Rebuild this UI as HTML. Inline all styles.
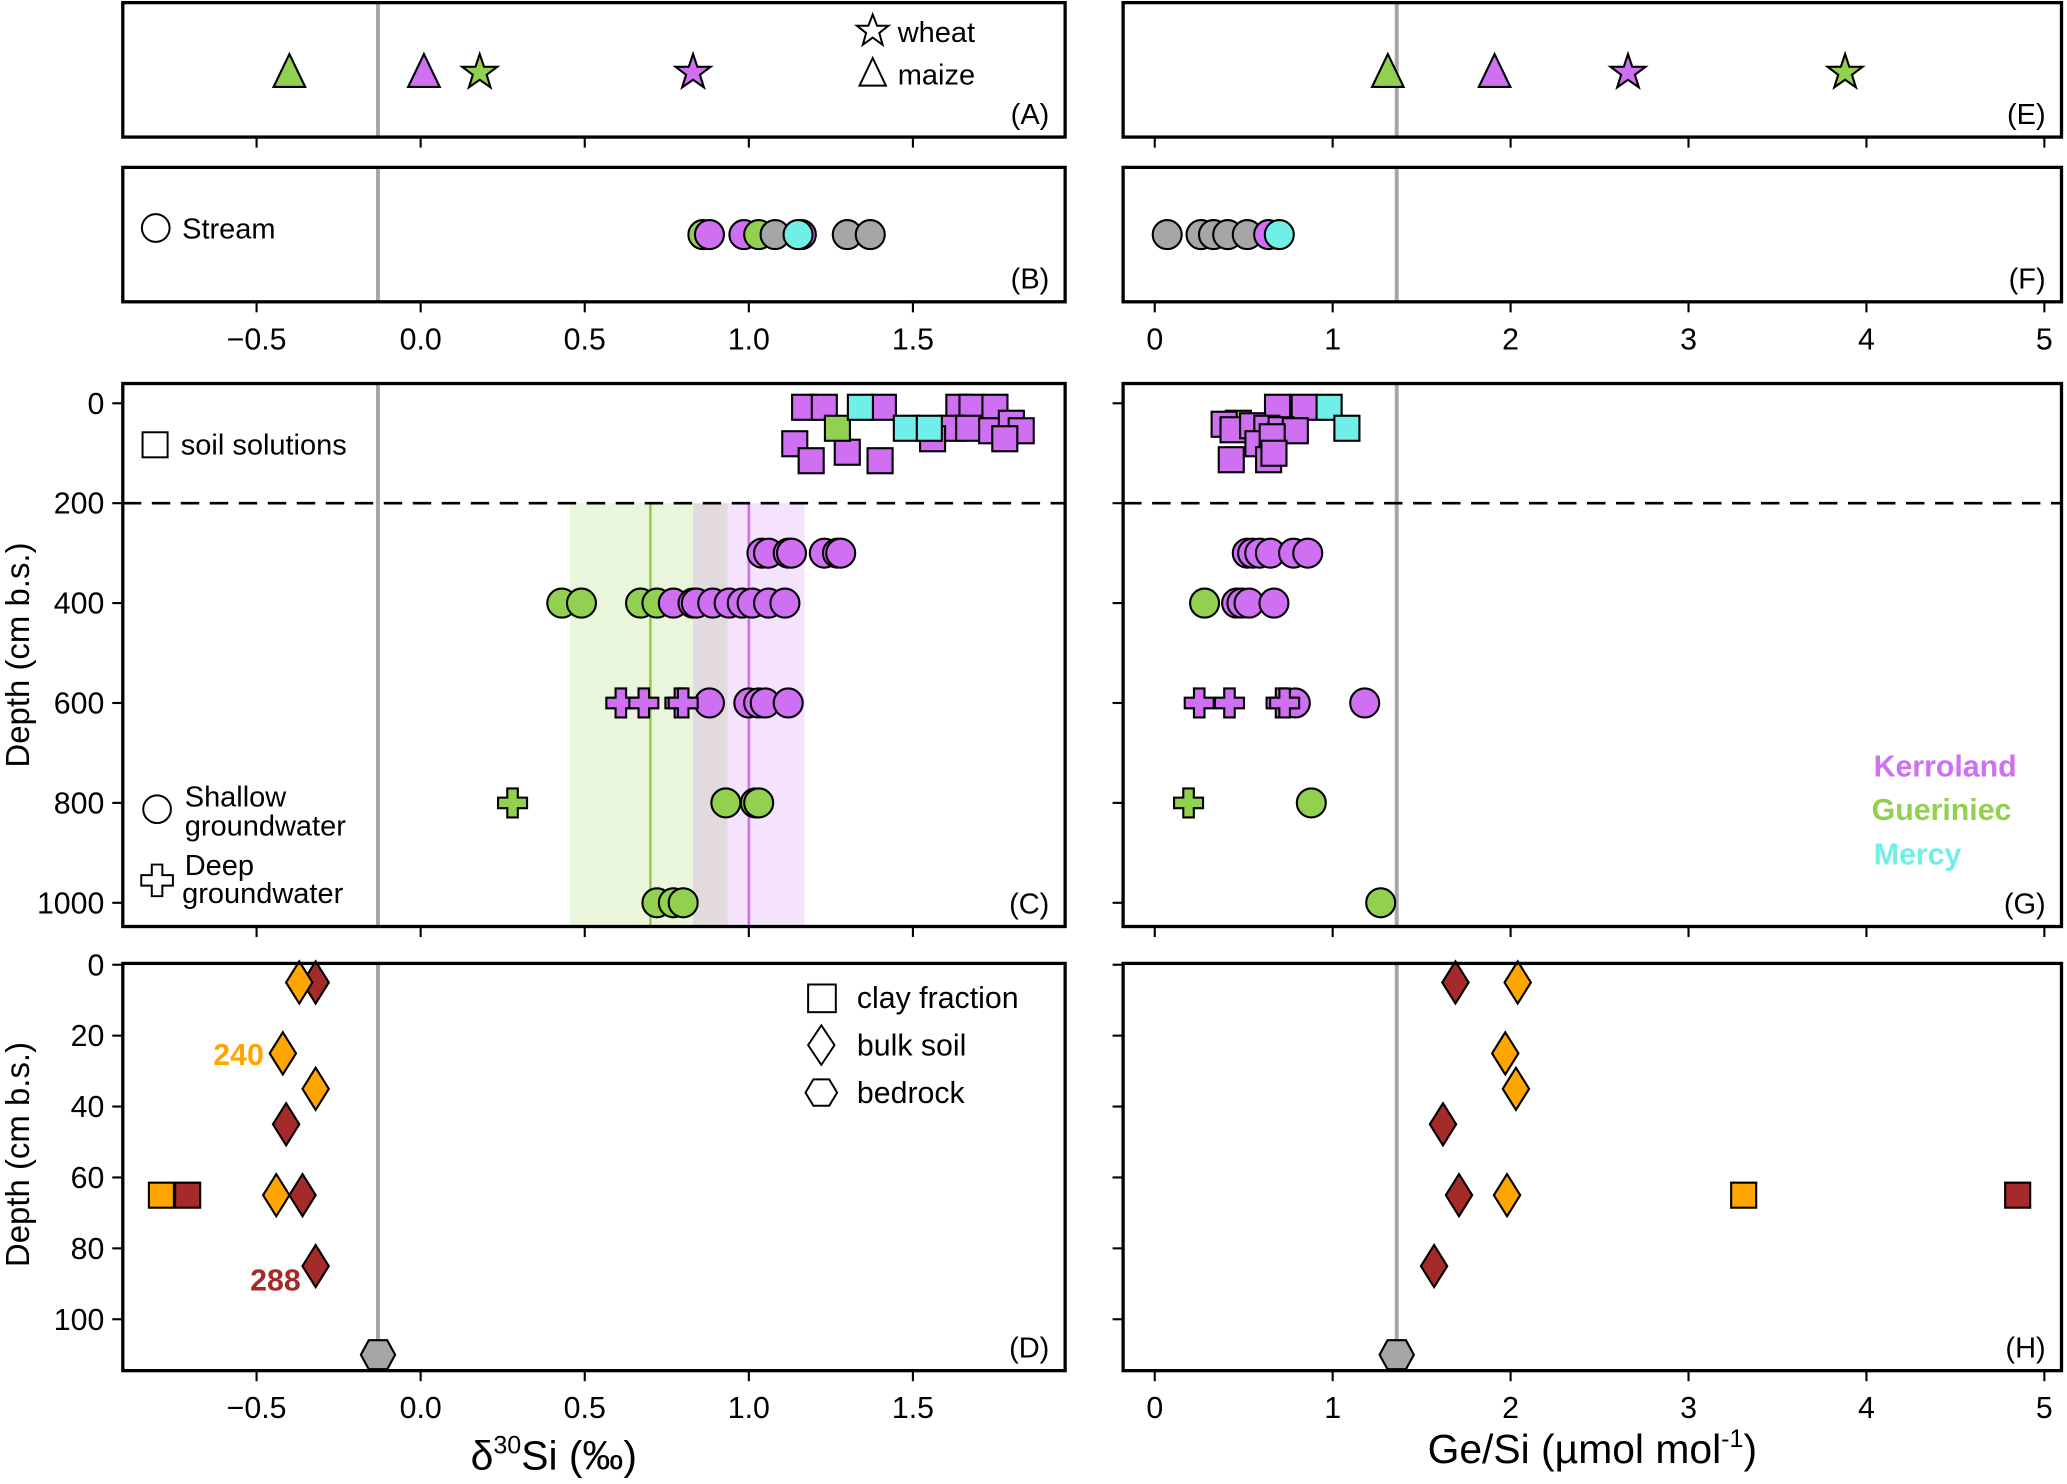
<!DOCTYPE html>
<html><head><meta charset="utf-8"><title>Si isotopes and Ge/Si</title>
<style>
html,body{margin:0;padding:0;background:#fff;}
svg{display:block;font-family:"Liberation Sans","DejaVu Sans",sans-serif;}
</style></head>
<body>
<svg id="chart" xmlns="http://www.w3.org/2000/svg" width="2067" height="1484" viewBox="0 0 1568 1126">
<rect x="0" y="0" width="1568" height="1126" fill="#fff"/>
</svg>
<script>
// ---------- data ----------
const cropType = ['maize','maize','wheat','wheat'];
const cropSite = ['G','K','G','K'];
const cropD30 = [-0.40, 0.01, 0.18, 0.83];
const cropGe = [1.31, 1.91, 3.88, 2.66];

const streamSiteD = ['G','K','K','G','X','K','M','X','X'];
const streamValD = [0.86, 0.88, 0.985, 1.03, 1.08, 1.16, 1.15, 1.30, 1.37];
const streamSiteGe = ['X','X','X','X','X','K','M'];
const streamValGe = [0.07, 0.26, 0.33, 0.41, 0.52, 0.64, 0.70];

const solSiteD = ['K','K','K','K','K','K','K','K','K','K','K','K','K','K','K','K','K','G','M','M','M'];
const solDepthD = [8,8,8,8,8,8,50,50,55,40,55,71,71,81,115,98,115,50,8,50,50];
const solValD = [1.17,1.23,1.41,1.64,1.68,1.75,1.62,1.67,1.74,1.80,1.83,1.78,1.56,1.14,1.19,1.30,1.40,1.27,1.34,1.48,1.55];
const solSiteGe = ['G','K','K','K','K','K','K','K','K','K','K','K','K','K','M','M'];
const solDepthGe = [40,8,8,42,53,45,50,53,55,81,67,113,113,100,8,50];
const solValGe = [0.47,0.69,0.84,0.39,0.44,0.55,0.63,0.71,0.79,0.58,0.66,0.43,0.64,0.67,0.98,1.08];

const gwSiteD = ['K','K','K','K','K','K','K','G','G','G','G','K','K','K','K','K','K','K','K','K','K','K','K','K','K','G','G','G','G','G','G'];
const gwDepthD = [300,300,300,300,300,300,300,400,400,400,400,400,400,400,400,400,400,400,400,400,600,600,600,600,600,800,800,800,1000,1000,1000];
const gwValD = [1.04,1.06,1.12,1.13,1.23,1.27,1.28,0.43,0.49,0.67,0.72,0.77,0.83,0.84,0.89,0.94,0.98,1.01,1.06,1.11,0.88,1.00,1.03,1.05,1.12,0.93,1.02,1.03,0.72,0.77,0.80];
const gwSiteGe = ['K','K','K','K','K','K','G','K','K','K','K','K','K','G','G'];
const gwDepthGe = [300,300,300,300,300,300,400,400,400,400,400,600,600,800,1000];
const gwValGe = [0.52,0.55,0.59,0.65,0.78,0.86,0.28,0.46,0.49,0.53,0.67,0.79,1.18,0.88,1.27];

const deepSiteD = ['K','K','K','K','G'];
const deepDepthD = [600,600,600,600,800];
const deepValD = [0.61,0.68,0.79,0.80,0.28];
const deepSiteGe = ['K','K','K','K','G'];
const deepDepthGe = [600,600,600,600,800];
const deepValGe = [0.25,0.42,0.71,0.73,0.19];

const bulkSite = ['R','R','R','R','O','O','O','O'];
const bulkDepth = [5,45,65,85,5,25,35,65];
const bulkD30 = [-0.32,-0.41,-0.36,-0.32,-0.37,-0.42,-0.32,-0.44];
const bulkGe = [1.69,1.62,1.71,1.57,2.04,1.97,2.03,1.98];
const claySite = ['O','R'];
const clayDepth = [65,65];
const clayD30 = [-0.79,-0.71];
const clayGe = [3.31,4.85];
const bedrockDepth = [110];
const bedrockD30 = [-0.13];
const bedrockGe = [1.36];

const bandMeans = [0.70, 1.00];
const bandLo = [0.455, 0.83];
const bandHi = [0.935, 1.17];
const bandSite = ['G','K'];

const refD30 = -0.13;
const refGe = 1.36;

const xTicksD = [-0.5, 0, 0.5, 1.0, 1.5];
const xTickLabD = ['\u22120.5','0.0','0.5','1.0','1.5'];
const xTicksGe = [0,1,2,3,4,5];
const yTicksC = [0,200,400,600,800,1000];
const yTicksD = [0,20,40,60,80,100];

// ---------- scales ----------
const COL = {K:'#cf6ff2', G:'#92d050', M:'#70efe9', X:'#a6a6a6', O:'#ffa500', R:'#a52a2a'};
const L = {x0:93, x1:808}, R = {x0:852, x1:1564};
const PA = {y0:2, y1:104}, PB = {y0:127, y1:229}, PC = {y0:291, y1:703}, PD = {y0:731, y1:1040};
function xL(v){ return 319 + 249*v; }
function xR(v){ return 876 + 135*v; }
function yC(d){ return 306 + d*0.379; }
function yD(d){ return 732 + d*2.69; }

const svg = document.getElementById('chart');
const NS = 'http://www.w3.org/2000/svg';
function mk(tag, attrs, parent){
  const e = document.createElementNS(NS, tag);
  for (const k in attrs) e.setAttribute(k, attrs[k]);
  (parent||svg).appendChild(e);
  return e;
}
function txt(s, attrs){
  const t = mk('text', attrs);
  t.textContent = s;
  return t;
}
const SW = 1.6;

function marker(shape, cx, cy, fill, name){
  let e;
  if (shape==='circle'){
    e = mk('circle',{cx:cx,cy:cy,r:11,fill:fill,stroke:'#000','stroke-width':SW});
  } else if (shape==='square'){
    e = mk('rect',{x:cx-9.5,y:cy-9.5,width:19,height:19,fill:fill,stroke:'#000','stroke-width':SW});
  } else if (shape==='triangle'){
    e = mk('polygon',{points:`${cx},${cy-13} ${cx+12},${cy+12} ${cx-12},${cy+12}`,fill:fill,stroke:'#000','stroke-width':SW});
  } else if (shape==='star'){
    let p=[];
    for(let i=0;i<10;i++){const a=-Math.PI/2+i*Math.PI/5;const r=i%2?5.5:14;p.push((cx+r*Math.cos(a)).toFixed(1)+','+(cy+1+r*Math.sin(a)).toFixed(1));}
    e = mk('polygon',{points:p.join(' '),fill:fill,stroke:'#000','stroke-width':SW});
  } else if (shape==='cross'){
    const a=4,b=11;
    e = mk('polygon',{points:`${cx-a},${cy-b} ${cx+a},${cy-b} ${cx+a},${cy-a} ${cx+b},${cy-a} ${cx+b},${cy+a} ${cx+a},${cy+a} ${cx+a},${cy+b} ${cx-a},${cy+b} ${cx-a},${cy+a} ${cx-b},${cy+a} ${cx-b},${cy-a} ${cx-a},${cy-a}`,fill:fill,stroke:'#000','stroke-width':SW});
  } else if (shape==='diamond'){
    e = mk('polygon',{points:`${cx},${cy-16} ${cx+10},${cy} ${cx},${cy+16} ${cx-10},${cy}`,fill:fill,stroke:'#000','stroke-width':SW});
  } else if (shape==='hexagon'){
    e = mk('polygon',{points:`${cx-13},${cy} ${cx-7},${cy-11} ${cx+7},${cy-11} ${cx+13},${cy} ${cx+7},${cy+11} ${cx-7},${cy+11}`,fill:fill,stroke:'#000','stroke-width':SW});
  }
  
  
  return e;
}

// ---------- backgrounds: bands, reference lines ----------
for (let i=0;i<bandMeans.length;i++){
  const b = mk('rect',{x:xL(bandLo[i]),y:yC(200),width:xL(bandHi[i])-xL(bandLo[i]),height:PC.y1-yC(200),fill:COL[bandSite[i]],'fill-opacity':0.2});
  
  
}
for (let i=0;i<bandMeans.length;i++){
  const l = mk('line',{x1:xL(bandMeans[i]),x2:xL(bandMeans[i]),y1:yC(200),y2:PC.y1,stroke:COL[bandSite[i]],'stroke-width':2});
  
  
}
[PA,PB,PC].forEach(p=>{
  const l = mk('line',{x1:xL(refD30),x2:xL(refD30),y1:p.y0,y2:p.y1,stroke:'#a6a6a6','stroke-width':3});
  
  
  const r = mk('line',{x1:xR(refGe),x2:xR(refGe),y1:p.y0,y2:p.y1,stroke:'#a6a6a6','stroke-width':3});
  
  
});
{
  const l = mk('line',{x1:xL(refD30),x2:xL(refD30),y1:PD.y0,y2:yD(bedrockDepth[0])-10,stroke:'#a6a6a6','stroke-width':3});
  
  
  const r = mk('line',{x1:xR(refGe),x2:xR(refGe),y1:PD.y0,y2:yD(bedrockDepth[0])-10,stroke:'#a6a6a6','stroke-width':3});
  
  
}
[[L.x0,L.x1],[R.x0,R.x1]].forEach(([a,b])=>{
  const d = mk('line',{x1:a,x2:b,y1:yC(200),y2:yC(200),stroke:'#000','stroke-width':2,'stroke-dasharray':'14,8'});
  
  
});

// ---------- marks ----------
for (let i=0;i<cropD30.length;i++){
  marker(cropType[i]==='maize'?'triangle':'star', xL(cropD30[i]), 54, COL[cropSite[i]], 'crop-'+cropType[i]+'-d30si');
  marker(cropType[i]==='maize'?'triangle':'star', xR(cropGe[i]), 54, COL[cropSite[i]], 'crop-'+cropType[i]+'-gesi');
}
for (let i=0;i<streamValD.length;i++) marker('circle', xL(streamValD[i]), 178, COL[streamSiteD[i]], 'stream-point');
for (let i=0;i<streamValGe.length;i++) marker('circle', xR(streamValGe[i]), 178, COL[streamSiteGe[i]], 'stream-point');
for (let i=0;i<solValD.length;i++) marker('square', xL(solValD[i]), yC(solDepthD[i]), COL[solSiteD[i]], 'soil-solution-point');
for (let i=0;i<solValGe.length;i++) marker('square', xR(solValGe[i]), yC(solDepthGe[i]), COL[solSiteGe[i]], 'soil-solution-point');
for (let i=0;i<gwValD.length;i++) marker('circle', xL(gwValD[i]), yC(gwDepthD[i]), COL[gwSiteD[i]], 'shallow-groundwater-point');
for (let i=0;i<gwValGe.length;i++) marker('circle', xR(gwValGe[i]), yC(gwDepthGe[i]), COL[gwSiteGe[i]], 'shallow-groundwater-point');
for (let i=0;i<deepValD.length;i++) marker('cross', xL(deepValD[i]), yC(deepDepthD[i]), COL[deepSiteD[i]], 'deep-groundwater-point');
for (let i=0;i<deepValGe.length;i++) marker('cross', xR(deepValGe[i]), yC(deepDepthGe[i]), COL[deepSiteGe[i]], 'deep-groundwater-point');
for (let i=0;i<bulkD30.length;i++){
  marker('diamond', xL(bulkD30[i]), yD(bulkDepth[i]), COL[bulkSite[i]], 'bulk-soil-point');
  marker('diamond', xR(bulkGe[i]), yD(bulkDepth[i]), COL[bulkSite[i]], 'bulk-soil-point');
}
for (let i=0;i<clayD30.length;i++){
  marker('square', xL(clayD30[i]), yD(clayDepth[i]), COL[claySite[i]], 'clay-fraction-point');
  marker('square', xR(clayGe[i]), yD(clayDepth[i]), COL[claySite[i]], 'clay-fraction-point');
}
for (let i=0;i<bedrockD30.length;i++){
  marker('hexagon', xL(bedrockD30[i]), yD(bedrockDepth[i]), '#a6a6a6', 'bedrock-point');
  marker('hexagon', xR(bedrockGe[i]), yD(bedrockDepth[i]), '#a6a6a6', 'bedrock-point');
}

// ---------- frames and ticks ----------
const panels = [['A',L,PA],['B',L,PB],['C',L,PC],['D',L,PD],['E',R,PA],['F',R,PB],['G',R,PC],['H',R,PD]];
panels.forEach(([lab,X,P])=>{
  const f = mk('rect',{x:X.x0,y:P.y0,width:X.x1-X.x0,height:P.y1-P.y0,fill:'none',stroke:'#000','stroke-width':2.5});
  
  
  const t = txt('('+lab+')',{x:X.x1-12,y:P.y1-10,'text-anchor':'end','font-size':22});
  
  
  const left = X===L;
  const ticks = left ? xTicksD : xTicksGe;
  ticks.forEach((v,i)=>{
    const x = left ? xL(v) : xR(v);
    const tk = mk('line',{x1:x,x2:x,y1:P.y1+1,y2:P.y1+8,stroke:'#000','stroke-width':1.6});
    
    
    if (lab==='B'||lab==='D'||lab==='F'||lab==='H'){
      const s = left ? xTickLabD[i] : String(v);
      const tl = txt(s,{x:x,y:P.y1+36,'text-anchor':'middle','font-size':23});
      
      
    }
  });
  if (lab==='C'||lab==='G'||lab==='D'||lab==='H'){
    const yt = (lab==='C'||lab==='G') ? yTicksC : yTicksD;
    const yf = (lab==='C'||lab==='G') ? yC : yD;
    yt.forEach(v=>{
      const y = yf(v);
      const tk = mk('line',{x1:X.x0-1,x2:X.x0-8,y1:y,y2:y,stroke:'#000','stroke-width':1.6});
      
      
      if (left){
        const tl = txt(String(v),{x:X.x0-14,y:y+8,'text-anchor':'end','font-size':23});
        
        
      }
    });
  }
});
</script>

<!-- static annotations -->
<svg style="position:absolute;left:0;top:0" width="2067" height="1484" viewBox="0 0 1568 1126" xmlns="http://www.w3.org/2000/svg" font-family="Liberation Sans, DejaVu Sans, sans-serif">
  <g>
    <polygon points="662,11 665.3,19.5 674,19.5 667,25 669.5,34 662,28.5 654.5,34 657,25 650,19.5 658.7,19.5" fill="none" stroke="#000" stroke-width="1.5"/>
    <text x="681" y="32" font-size="22">wheat</text>
    <polygon points="662,44 672,65 652,65" fill="none" stroke="#000" stroke-width="1.5"/>
    <text x="681" y="64" font-size="22">maize</text>
  </g>
  <g>
    <circle cx="118" cy="173" r="10.5" fill="none" stroke="#000" stroke-width="1.5"/>
    <text x="138" y="181" font-size="22">Stream</text>
  </g>
  <g>
    <rect x="108" y="328" width="19" height="19" fill="none" stroke="#000" stroke-width="1.5"/>
    <text x="137" y="345" font-size="22">soil solutions</text>
  </g>
  <g>
    <circle cx="119" cy="614" r="10.5" fill="none" stroke="#000" stroke-width="1.5"/>
    <text x="140" y="612" font-size="22">Shallow</text>
    <text x="140" y="634" font-size="22">groundwater</text>
    <polygon points="115,656 123,656 123,664 131,664 131,672 123,672 123,680 115,680 115,672 107,672 107,664 115,664" fill="none" stroke="#000" stroke-width="1.5"/>
    <text x="140" y="664" font-size="22">Deep</text>
    <text x="138" y="685" font-size="22">groundwater</text>
  </g>
  <g font-weight="bold" font-size="23" text-anchor="end">
    <text x="1530" y="589" fill="#cf6ff2">Kerroland</text>
    <text x="1526" y="622" fill="#92d050">Gueriniec</text>
    <text x="1488" y="656" fill="#70efe9">Mercy</text>
  </g>
  <g>
    <rect x="613" y="747" width="21" height="21" fill="none" stroke="#000" stroke-width="1.5"/>
    <text x="650" y="765" font-size="23">clay fraction</text>
    <polygon points="623,778 633,793 623,808 613,793" fill="none" stroke="#000" stroke-width="1.5"/>
    <text x="650" y="801" font-size="23">bulk soil</text>
    <polygon points="611,829 617,819 629,819 635,829 629,839 617,839" fill="none" stroke="#000" stroke-width="1.5"/>
    <text x="650" y="837" font-size="23">bedrock</text>
  </g>
  <text x="200" y="808" font-size="23" font-weight="bold" fill="#ffa500" text-anchor="end">240</text>
  <text x="228" y="979" font-size="23" font-weight="bold" fill="#a52a2a" text-anchor="end">288</text>
  <text transform="translate(22,497) rotate(-90)" text-anchor="middle" font-size="25">Depth (cm b.s.)</text>
  <text transform="translate(22,876) rotate(-90)" text-anchor="middle" font-size="25">Depth (cm b.s.)</text>
  <text x="420" y="1115" text-anchor="middle" font-size="31">δ<tspan font-size="19" dy="-12">30</tspan><tspan dy="12">Si (‰)</tspan></text>
  <text x="1208" y="1110" text-anchor="middle" font-size="31">Ge/Si (µmol mol<tspan font-size="19" dy="-12">-1</tspan><tspan dy="12">)</tspan></text>
</svg>
</body></html>
